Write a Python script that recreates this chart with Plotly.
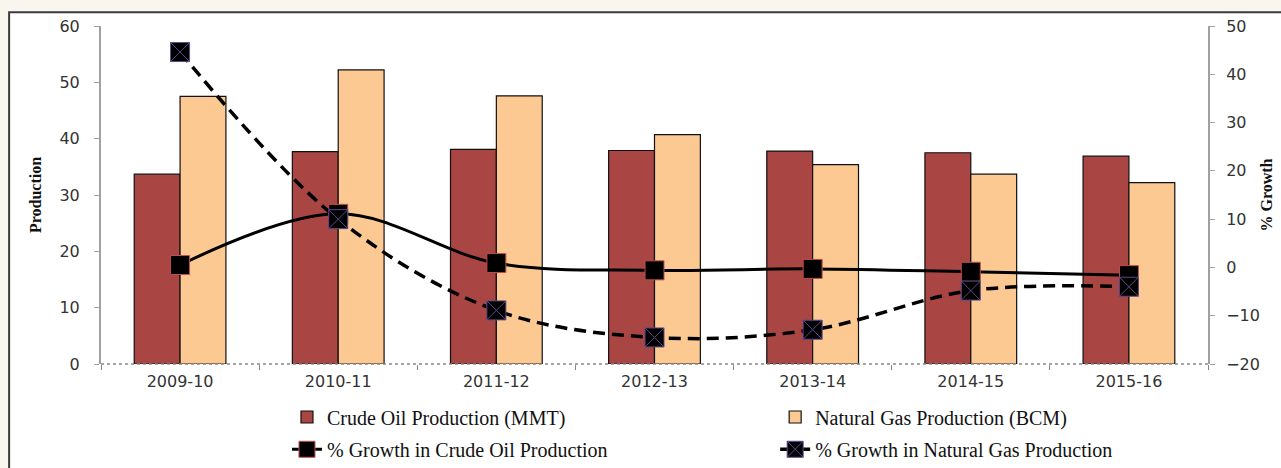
import plotly.graph_objects as go

years = ["2009-10", "2010-11", "2011-12", "2012-13", "2013-14", "2014-15", "2015-16"]
crude_oil = [33.7, 37.7, 38.1, 37.9, 37.8, 37.5, 36.9]
natural_gas = [47.5, 52.2, 47.6, 40.7, 35.4, 33.7, 32.2]
crude_growth = [0.5, 11.1, 0.9, -0.6, -0.3, -0.9, -1.6]
gas_growth = [44.6, 10.0, -8.9, -14.5, -12.9, -4.8, -4.0]

serif = "Liberation Serif"
tick_font = dict(family="DejaVu Sans", size=16, color="#333333")
legend_font = dict(family=serif, size=20, color="#111111")

fig = go.Figure()

fig.add_trace(go.Bar(
    x=years, y=crude_oil,
    name="Crude Oil Production (MMT)",
    marker=dict(color="#a94543", line=dict(color="#111111", width=1.2)),
    legend="legend",
))
fig.add_trace(go.Bar(
    x=years, y=natural_gas,
    name="Natural Gas Production (BCM)",
    marker=dict(color="#fdc993", line=dict(color="#111111", width=1.2)),
    legend="legend2",
))
fig.add_trace(go.Scatter(
    x=years, y=crude_growth, yaxis="y2",
    name="% Growth in Crude Oil Production",
    mode="lines+markers",
    line=dict(color="black", width=3, shape="spline", smoothing=1),
    marker=dict(symbol="square", size=19, color="black",
                line=dict(color="#c0504d", width=1)),
    legend="legend3",
))
fig.add_trace(go.Scatter(
    x=years, y=gas_growth, yaxis="y2",
    name="% Growth in Natural Gas Production",
    mode="lines+markers",
    line=dict(color="black", width=3.5, dash="12px,7px", shape="spline", smoothing=1),
    marker=dict(symbol="square-x", size=19, color="black",
                line=dict(color="#5b4a8b", width=1)),
    legend="legend4",
))


def legend_box(x, y):
    return dict(
        orientation="h",
        xref="paper", x=x, xanchor="left",
        yref="container", y=y, yanchor="middle",
        bgcolor="rgba(0,0,0,0)",
        font=legend_font,
    )


fig.update_layout(
    width=1281, height=468,
    margin=dict(l=101, r=73, t=26, b=104),
    paper_bgcolor="#f8f6ef",
    plot_bgcolor="white",
    barmode="group",
    bargap=0.42,
    bargroupgap=0,
    showlegend=True,
    legend=legend_box(0.168, 0.109),
    legend2=legend_box(0.609, 0.109),
    legend3=legend_box(0.168, 0.040),
    legend4=legend_box(0.609, 0.040),
    xaxis=dict(
        type="category",
        automargin=False,
        showline=False,
        ticks="outside", tickson="boundaries", ticklen=5,
        tickcolor="#888888",
        ticklabelstandoff=6,
        tickfont=tick_font,
        showgrid=False,
    ),
    yaxis=dict(
        range=[0, 60], dtick=10,
        automargin=False,
        showline=True, linecolor="#a0a0a0", linewidth=2,
        ticks="outside", ticklen=5, tickcolor="#a0a0a0",
        ticklabelstandoff=11,
        tickfont=tick_font,
        showgrid=False, zeroline=False,
        title=dict(text="<b>Production</b>",
                   font=dict(family=serif, size=16, color="#111111"),
                   standoff=14),
    ),
    yaxis2=dict(
        range=[-20, 50], dtick=10,
        automargin=False,
        overlaying="y", side="right",
        showline=True, linecolor="#a0a0a0", linewidth=2,
        ticks="outside", ticklen=5, tickcolor="#a0a0a0",
        ticklabelstandoff=8,
        tickfont=tick_font,
        showgrid=False, zeroline=False,
        title=dict(text="<b>% Growth</b>",
                   font=dict(family=serif, size=16, color="#111111"),
                   standoff=2),
    ),
    shapes=[
        dict(type="rect", xref="paper", yref="paper",
             x0=-0.083, x1=1.08, y0=-0.32, y1=1.041,
             fillcolor="white", line=dict(color="#3a3a3a", width=2),
             layer="below"),
        dict(type="line", xref="paper", yref="paper",
             x0=0, x1=1, y0=0, y1=0,
             line=dict(color="#888888", width=1.5, dash="dot"),
             layer="above"),
    ],
)

fig.write_html(
    "out.html",
    config={"displayModeBar": False},
    post_script="document.body.style.margin='0';"
                "document.body.style.background='#f8f6ef';",
)
